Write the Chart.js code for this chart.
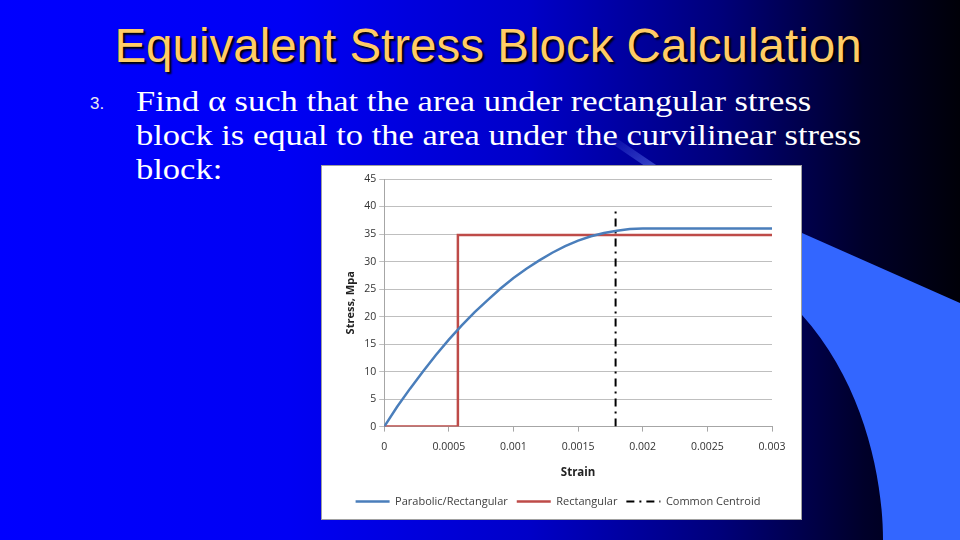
<!DOCTYPE html>
<html>
<head>
<meta charset="utf-8">
<script src="https://cdn.jsdelivr.net/npm/chart.js@4"></script>
<style>
  html, body { margin: 0; padding: 0; }
  body { width: 960px; height: 540px; overflow: hidden; position: relative;
         background: linear-gradient(to right, #0000ff 0%, #0000f4 30%, #0000c8 55%, #00007a 75%, #00002a 90%, #000008 100%); }
  #deco { position: absolute; left: 0; top: 0; }
  #title { position: absolute; left: 0; top: 18px; width: 976px; text-align: center;
           font-family: "Liberation Sans", Arial, sans-serif; font-size: 47.5px; color: #ffcc66;
           text-shadow: 2px 2px 2px #000; white-space: nowrap; }
  #num { position: absolute; left: 90px; top: 94px; font-family: "Liberation Sans", sans-serif;
         font-size: 17px; color: #e8e8f0; }
  #body { position: absolute; left: 136px; top: 84px; font-family: "Liberation Serif", serif;
          font-size: 30px; line-height: 34px; color: #ffffff; white-space: nowrap;
          transform: scaleX(1.15); transform-origin: 0 0; }
  #box { position: absolute; left: 321px; top: 165px; width: 479px; height: 353px;
         background: #ffffff; border: 1px solid #a0a0a0; }
</style>
</head>
<body>
<svg id="deco" width="960" height="540">
  <defs>
    <linearGradient id="streak" x1="0" y1="0" x2="1" y2="1">
      <stop offset="0" stop-color="#6f8cff" stop-opacity="0"/>
      <stop offset="1" stop-color="#6f8cff" stop-opacity="0.55"/>
    </linearGradient>
  </defs>
  <path d="M 604,134 L 660,172" stroke="url(#streak)" stroke-width="7" fill="none"/>
  <path d="M 802,233 L 960,303 L 960,540 L 883,540 C 883,480 865,385 802,315 Z" fill="#3366ff"/>
</svg>
<div id="title">Equivalent Stress Block Calculation</div>
<div id="num">3.</div>
<div id="body">Find α such that the area under rectangular stress<br>block is equal to the area under the curvilinear stress<br>block:</div>
<div id="box"><canvas id="chart"></canvas></div>
<script>
// valores
const strain = [0, 0.0001, 0.0002, 0.0003, 0.0004, 0.0005, 0.0006, 0.0007, 0.0008, 0.0009, 0.001,
                0.0011, 0.0012, 0.0013, 0.0014, 0.0015, 0.0016, 0.0017, 0.0018, 0.0019, 0.002, 0.003];
const stressParabolic = [0, 3.6, 6.9, 10.0, 13.0, 15.8, 18.4, 20.8, 23.0, 25.1, 27.0,
                         28.7, 30.2, 31.6, 32.8, 33.8, 34.6, 35.2, 35.6, 35.9, 36.0, 36.0];
const rectStrain = [0, 0.00057, 0.00057, 0.003];
const rectStress = [0, 0, 34.8, 34.8];
const centroidStrain = [0.00179, 0.00179];
const centroidStress = [0, 40];
const xTickLabels = ['0', '0.0005', '0.001', '0.0015', '0.002', '0.0025', '0.003'];
const yTickLabels = ['0', '5', '10', '15', '20', '25', '30', '35', '40', '45'];
const seriesNames = ['Parabolic/Rectangular', 'Rectangular', 'Common Centroid'];

function toPoints(xs, ys) {
    return xs.map((x, i) => ({ x: x, y: ys[i] }));
}

const fontFamily = '"Open Sans", "Liberation Sans", sans-serif';
const tickFont = { family: fontFamily, size: 10.5 };

const chart = new Chart(document.getElementById('chart').getContext('2d'), {
    type: 'scatter',
    data: {
        datasets: [
            {
                label: seriesNames[0],
                data: toPoints(strain, stressParabolic),
                showLine: true,
                borderColor: '#4a7ebb',
                backgroundColor: '#4a7ebb',
                borderWidth: 2.5,
                pointRadius: 0,
                tension: 0
            },
            {
                label: seriesNames[1],
                data: toPoints(rectStrain, rectStress),
                showLine: true,
                borderColor: '#be4b48',
                backgroundColor: '#be4b48',
                borderWidth: 2.5,
                pointRadius: 0
            },
            {
                label: seriesNames[2],
                data: toPoints(centroidStrain, centroidStress),
                showLine: true,
                borderColor: '#000000',
                backgroundColor: '#000000',
                borderWidth: 2,
                borderDash: [8, 5, 2, 5],
                pointRadius: 0
            }
        ]
    },
    options: {
        responsive: true,
        maintainAspectRatio: false,
        animation: false,
        layout: { padding: { left: 22, right: 29, top: 13, bottom: 2 } },
        plugins: {
            tooltip: { enabled: false },
            legend: {
                position: 'bottom',
                labels: {
                    usePointStyle: true,
                    pointStyle: 'line',
                    pointStyleWidth: 34,
                    boxHeight: 10,
                    padding: 9,
                    color: '#404040',
                    font: { family: fontFamily, size: 11 },
                    // usa o traço da linha (e não do ponto) na legenda
                    generateLabels: (c) => {
                        const items = Chart.defaults.plugins.legend.labels.generateLabels(c);
                        items.forEach(item => {
                            const ds = c.data.datasets[item.datasetIndex];
                            item.lineWidth = ds.borderWidth;
                            item.lineDash = ds.borderDash || [];
                            item.strokeStyle = ds.borderColor;
                        });
                        return items;
                    }
                }
            }
        },
        scales: {
            x: {
                type: 'linear',
                min: 0,
                max: 0.003,
                ticks: {
                    stepSize: 0.0005,
                    color: '#333333',
                    font: tickFont,
                    maxRotation: 0,
                    padding: 9,
                    callback: (v, i) => xTickLabels[i]
                },
                grid: { drawOnChartArea: false, drawTicks: true, tickLength: 5, color: '#a6a6a6' },
                border: { display: true, color: '#a6a6a6' },
                title: { display: true, text: 'Strain', color: '#222222',
                         font: { family: fontFamily, size: 11.5, weight: 'bold' },
                         padding: { top: 4, bottom: 7 } }
            },
            y: {
                min: 0,
                max: 45,
                ticks: {
                    stepSize: 5,
                    color: '#333333',
                    font: tickFont,
                    padding: 3,
                    callback: (v, i) => yTickLabels[i]
                },
                grid: { color: '#bfbfbf', drawTicks: true, tickLength: 5 },
                border: { display: true, color: '#a6a6a6' },
                title: { display: true, text: 'Stress, Mpa', color: '#222222',
                         font: { family: fontFamily, size: 11, weight: 'bold' },
                         padding: { top: 0, bottom: 4 } }
            }
        }
    }
});
</script>
</body>
</html>
